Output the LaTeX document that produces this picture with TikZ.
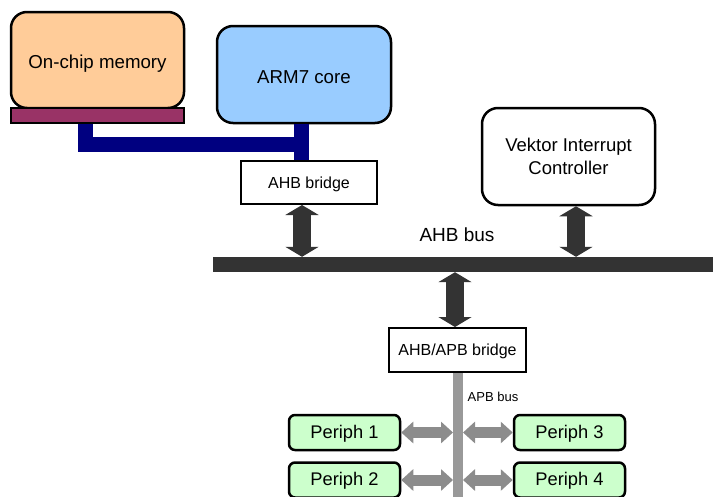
\documentclass[tikz,border=0pt]{standalone}
\usepackage{fontspec}
\setmainfont{Liberation Sans}
\usetikzlibrary{arrows.meta,calc}
\definecolor{peach}{HTML}{FFCC99}
\definecolor{armblue}{HTML}{99CCFF}
\definecolor{barplum}{HTML}{993366}
\definecolor{pgreen}{HTML}{CCFFCC}
\definecolor{busnavy}{HTML}{000080}
\definecolor{darkarrow}{HTML}{333333}
\definecolor{apbgray}{HTML}{999999}
\definecolor{arrgray}{HTML}{8C8C8C}
\newcommand{\lowertext}[2]{\raisebox{-#1}[\height][\depth]{#2}}
\tikzset{
  bigbox/.style={draw=black, line width=2.5pt, rounded corners=16pt, inner sep=0pt,
    align=center, font=\fontsize{18.7}{22}\selectfont},
  bridgebox/.style={draw=black, line width=2pt, fill=white, inner sep=0pt,
    font=\fontsize{16}{19}\selectfont},
  periph/.style={draw=black, line width=2.5pt, rounded corners=6pt, fill=pgreen,
    inner sep=0pt, minimum width=111pt, minimum height=35pt,
    font=\fontsize{18.3}{22}\selectfont},
  navybus/.style={draw=busnavy, line width=15pt, line join=miter},
  darkdbl/.style={draw=darkarrow, line width=18pt,
    {Triangle[width=33pt,length=10pt]}-{Triangle[width=33pt,length=10pt]}},
  graydbl/.style={draw=arrgray, line width=11pt,
    {Triangle[width=21pt,length=12pt]}-{Triangle[width=21pt,length=12pt]}},
}
\begin{document}
\begin{tikzpicture}[x=1pt,y=-1pt]
\useasboundingbox (0,0) rectangle (713,496);
% nodes
\node[bigbox, fill=peach, minimum width=173pt, minimum height=96pt] (mem) at (97.5,60) {\lowertext{4pt}{On-chip memory}};
\node[draw=black, line width=2pt, fill=barplum, minimum width=173pt, minimum height=15pt, inner sep=0pt] (membar) at (97.5,115.5) {};
\node[bigbox, fill=armblue, minimum width=174pt, minimum height=97pt] (arm) at (304,74.5) {\lowertext{3pt}{ARM7 core}};
\node[bridgebox, minimum width=136pt, minimum height=43pt] (ahbbr) at (309,182.5) {\lowertext{2pt}{AHB bridge}};
\node[bigbox, fill=white, minimum width=173pt, minimum height=97pt, font=\fontsize{18.5}{23}\selectfont] (vic) at (568.5,156.5) {Vektor Interrupt\\Controller};
\node[fill=darkarrow, minimum width=500pt, minimum height=15pt, inner sep=0pt] (ahbbus) at (463,264.5) {};
\node[font=\fontsize{19}{22}\selectfont] (ahblabel) at (457,235) {AHB bus};
\node[bridgebox, minimum width=137pt, minimum height=44pt] (apbbr) at (457.5,350) {\lowertext{1.5pt}{AHB/APB bridge}};
\node[font=\fontsize{13}{15}\selectfont] (apblabel) at (493,397) {APB bus};
\node[periph] (p1) at (344.5,432.5) {\lowertext{1pt}{Periph 1}};
\node[periph] (p3) at (569.5,432.5) {\lowertext{1pt}{Periph 3}};
\node[periph] (p2) at (344.5,480) {\lowertext{1pt}{Periph 2}};
\node[periph] (p4) at (569.5,480) {\lowertext{1pt}{Periph 4}};
% helper coordinates
\coordinate (mx) at (85,0);
\coordinate (ax) at (301,0);
\coordinate (hy) at (0,144.5);
\coordinate (a1x) at (302,0);
\coordinate (a2x) at (576,0);
\coordinate (a3x) at (455,0);
\coordinate (bot) at (0,500);
\coordinate (bl) at (453,0);
\coordinate (br) at (463,0);
% navy local bus
\draw[navybus] (membar.south -| mx) -- (mx |- hy) -- (ax |- hy);
\draw[navybus] (arm.south -| ax) -- (ax |- ahbbr.north);
% AHB arrows
\draw[darkdbl] (a1x |- ahbbr.south) -- (a1x |- ahbbus.north);
\draw[darkdbl] (a2x |- vic.south) -- (a2x |- ahbbus.north);
\draw[darkdbl] (a3x |- ahbbus.south) -- (a3x |- apbbr.north);
% APB bus
\draw[draw=apbgray, line width=10pt] (apbbr.south) -- (apbbr.south |- bot);
% peripheral arrows
\draw[graydbl] (p1.east) -- (bl |- p1.east);
\draw[graydbl] (br |- p3.west) -- (p3.west);
\draw[graydbl] (p2.east) -- (bl |- p2.east);
\draw[graydbl] (br |- p4.west) -- (p4.west);
\end{tikzpicture}
\end{document}
